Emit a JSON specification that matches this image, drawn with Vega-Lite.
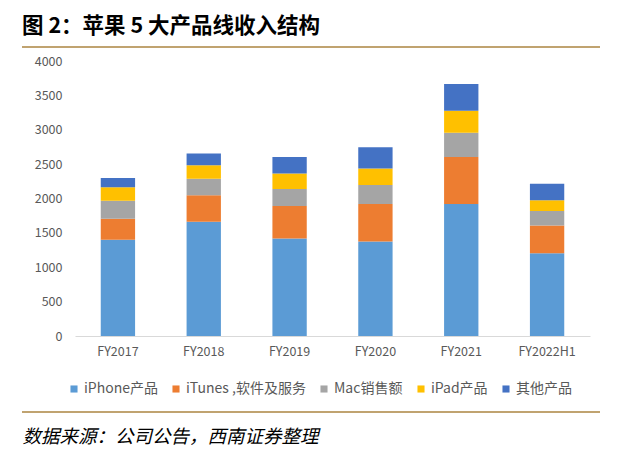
{
  "$schema": "https://vega.github.io/schema/vega-lite/v6.json",
  "width": 515,
  "height": 275,
  "autosize": {"type": "none"},
  "padding": {"left": 75, "top": 61, "right": 41, "bottom": 128},
  "background": "white",
  "title": {
    "text": "图 2：苹果 5 大产品线收入结构",
    "anchor": "start",
    "frame": "group",
    "dx": -53,
    "offset": 8,
    "font": "Noto Sans CJK SC",
    "fontSize": 21.5,
    "fontWeight": "bold",
    "color": "#000000"
  },
  "config": {
    "view": {"stroke": null},
    "font": "Noto Sans CJK SC"
  },
  "datasets": {
    "bars": [
      {"year": "FY2017", "product": "iPhone产品", "value": 1400},
      {"year": "FY2017", "product": "iTunes ,软件及服务", "value": 306},
      {"year": "FY2017", "product": "Mac销售额", "value": 262},
      {"year": "FY2017", "product": "iPad产品", "value": 195},
      {"year": "FY2017", "product": "其他产品", "value": 136},
      {"year": "FY2018", "product": "iPhone产品", "value": 1662},
      {"year": "FY2018", "product": "iTunes ,软件及服务", "value": 384},
      {"year": "FY2018", "product": "Mac销售额", "value": 243},
      {"year": "FY2018", "product": "iPad产品", "value": 194},
      {"year": "FY2018", "product": "其他产品", "value": 171},
      {"year": "FY2019", "product": "iPhone产品", "value": 1419},
      {"year": "FY2019", "product": "iTunes ,软件及服务", "value": 472},
      {"year": "FY2019", "product": "Mac销售额", "value": 247},
      {"year": "FY2019", "product": "iPad产品", "value": 224},
      {"year": "FY2019", "product": "其他产品", "value": 243},
      {"year": "FY2020", "product": "iPhone产品", "value": 1375},
      {"year": "FY2020", "product": "iTunes ,软件及服务", "value": 545},
      {"year": "FY2020", "product": "Mac销售额", "value": 277},
      {"year": "FY2020", "product": "iPad产品", "value": 238},
      {"year": "FY2020", "product": "其他产品", "value": 311},
      {"year": "FY2021", "product": "iPhone产品", "value": 1920},
      {"year": "FY2021", "product": "iTunes ,软件及服务", "value": 685},
      {"year": "FY2021", "product": "Mac销售额", "value": 350},
      {"year": "FY2021", "product": "iPad产品", "value": 321},
      {"year": "FY2021", "product": "其他产品", "value": 388},
      {"year": "FY2022H1", "product": "iPhone产品", "value": 1205},
      {"year": "FY2022H1", "product": "iTunes ,软件及服务", "value": 404},
      {"year": "FY2022H1", "product": "Mac销售额", "value": 209},
      {"year": "FY2022H1", "product": "iPad产品", "value": 155},
      {"year": "FY2022H1", "product": "其他产品", "value": 243}
    ],
    "lines": [
      {"x0": -53, "x1": 525, "y": 4205},
      {"x0": -53, "x1": 525, "y": -1106}
    ]
  },
  "layer": [
    {
      "data": {"name": "bars"},
      "transform": [
        {"calculate": "indexof(['iPhone产品', 'iTunes ,软件及服务', 'Mac销售额', 'iPad产品', '其他产品'], datum.product)", "as": "stackOrder"}
      ],
      "mark": {"type": "bar"},
      "encoding": {
        "x": {
          "field": "year",
          "type": "nominal",
          "sort": null,
          "scale": {"paddingInner": 0.6, "paddingOuter": 0.3},
          "axis": {
            "labelAngle": 0,
            "labelFontSize": 12.5,
            "labelColor": "#595959",
            "labelPadding": 9,
            "ticks": false,
            "domainColor": "#d9d9d9",
            "domainWidth": 1,
            "title": "数据来源：公司公告，西南证券整理",
            "titleAnchor": "start",
            "titleAlign": "left",
            "titleX": -53,
            "titleY": 100,
            "titleBaseline": "middle",
            "titleFontSize": 18.5,
            "titleFontStyle": "italic",
            "titleFontWeight": "normal",
            "titleColor": "#000000"
          }
        },
        "y": {
          "field": "value",
          "type": "quantitative",
          "stack": "zero",
          "scale": {"domain": [0, 4000], "nice": false},
          "axis": {
            "values": [0, 500, 1000, 1500, 2000, 2500, 3000, 3500, 4000],
            "format": "d",
            "labelOverlap": false,
            "grid": false,
            "domain": false,
            "ticks": false,
            "labelPadding": 13,
            "labelFontSize": 12.5,
            "labelColor": "#595959",
            "title": null
          }
        },
        "order": {"field": "stackOrder", "type": "quantitative", "sort": "ascending"},
        "color": {
          "field": "product",
          "type": "nominal",
          "sort": ["iPhone产品", "iTunes ,软件及服务", "Mac销售额", "iPad产品", "其他产品"],
          "scale": {
            "domain": ["iPhone产品", "iTunes ,软件及服务", "Mac销售额", "iPad产品", "其他产品"],
            "range": ["#5B9BD5", "#ED7D31", "#A5A5A5", "#FFC000", "#4472C4"]
          },
          "legend": {
            "orient": "none",
            "direction": "horizontal",
            "legendX": -8,
            "legendY": 321,
            "title": null,
            "symbolType": "square",
            "symbolSize": 50,
            "symbolStrokeWidth": 0,
            "labelFontSize": 14,
            "labelColor": "#595959",
            "labelOffset": 3,
            "labelLimit": 300,
            "columnPadding": 11
          }
        }
      }
    },
    {
      "data": {"name": "lines"},
      "mark": {"type": "rule", "color": "#C0A370", "strokeWidth": 2},
      "encoding": {
        "x": {"field": "x0", "type": "quantitative", "scale": {"domain": [0, 515], "nice": false, "zero": false}, "axis": null},
        "x2": {"field": "x1"},
        "y": {
          "field": "y",
          "type": "quantitative",
          "axis": {
            "values": [0, 500, 1000, 1500, 2000, 2500, 3000, 3500, 4000],
            "format": "d",
            "labelOverlap": false,
            "grid": false,
            "domain": false,
            "ticks": false,
            "labelPadding": 13,
            "labelFontSize": 12.5,
            "labelColor": "#595959",
            "title": null
          }
        }
      }
    }
  ],
  "resolve": {"scale": {"x": "independent"}, "axis": {"x": "independent"}}
}
